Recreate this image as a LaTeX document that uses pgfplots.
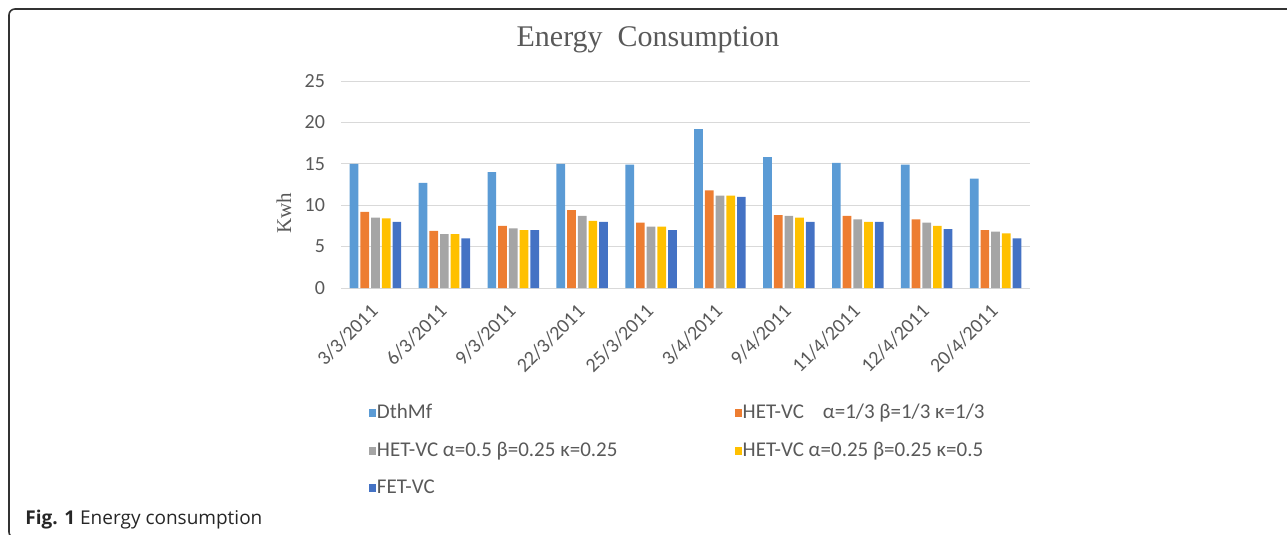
\documentclass[border=0pt]{standalone}
\usepackage{fontspec}
\setmainfont{Carlito}
\newfontfamily\titlefont{Liberation Serif}
\newfontfamily\capfont{Open Sans}
\usepackage{pgfplots}
\pgfplotsset{compat=1.18}
\definecolor{cA}{HTML}{5B9BD5}
\definecolor{cB}{HTML}{ED7D31}
\definecolor{cC}{HTML}{A5A5A5}
\definecolor{cD}{HTML}{FFC000}
\definecolor{cE}{HTML}{4472C4}
\definecolor{txt}{HTML}{595959}
\definecolor{gridc}{HTML}{D9D9D9}
\begin{document}
\begin{tikzpicture}
\begin{scope}[x=0.5pt,y=-0.5pt]
\path[use as bounding box] (0,0) rectangle (1287,535);
\begin{scope}
\clip (0,0) rectangle (1287,535);
\draw[line width=0.8pt, color=black!80, rounded corners=3pt] (1300,9) -- (9,9) -- (9,538) -- (40,538);
\end{scope}
\node[font=\titlefont\fontsize{15}{18}\selectfont, text=txt, anchor=base] at (648,47) {Energy\ \ Consumption};
\node[anchor=base west, font=\capfont\fontsize{9.5}{11}\selectfont, text=black!85, inner sep=0] at (25,524) {\textbf{Fig. 1} Energy consumption};
\end{scope}
\begin{axis}[
  at={(170.5pt,-144pt)}, anchor=south west,
  width=344.5pt, height=103.5pt, scale only axis,
  ybar=1pt, bar width=4.35pt,
  xmin=-0.5, xmax=9.5, ymin=0, ymax=25,
  ytick={0,5,...,25},
  xtick=data,
  xticklabels={3/3/2011,6/3/2011,9/3/2011,22/3/2011,25/3/2011,3/4/2011,9/4/2011,11/4/2011,12/4/2011,20/4/2011},
  /pgf/number format/assume math mode=true,
  ymajorgrids, grid style={color=gridc, line width=0.5pt},
  axis line style={draw=none},
  major tick length=0pt,
  tick style={draw=none},
  yticklabel style={font=\fontsize{10}{12}\selectfont, text=txt, xshift=-4.5pt},
  xticklabel style={font=\fontsize{10}{12}\selectfont, text=txt, rotate=45, anchor=north east, xshift=-4pt, yshift=0.45pt},
  ylabel={Kwh},
  ylabel style={font=\titlefont\fontsize{10.5}{12}\selectfont, text=txt, at={(rel axis cs:-0.083,0.36)}, anchor=center},
  legend style={at={(0.031,-0.53)}, anchor=north west, draw=none, fill=none,
    font=\fontsize{10.5}{12}\selectfont, text=txt,
    /tikz/every even column/.append style={column sep=58pt},
    row sep=8.2pt, nodes={inner xsep=0.5pt, inner ysep=1pt}},
  legend columns=2,
  legend cell align=left,
  legend image code/.code={\fill[#1] (0pt,-1.9pt) rectangle (3.6pt,1.9pt);},
]
\addplot[fill=cA, draw=none] coordinates {(0,15) (1,12.7) (2,14) (3,15) (4,14.9) (5,19.2) (6,15.8) (7,15.1) (8,14.9) (9,13.2)};
\addplot[fill=cB, draw=none] coordinates {(0,9.2) (1,6.9) (2,7.5) (3,9.4) (4,7.9) (5,11.8) (6,8.8) (7,8.7) (8,8.3) (9,7.0)};
\addplot[fill=cC, draw=none] coordinates {(0,8.5) (1,6.5) (2,7.2) (3,8.7) (4,7.4) (5,11.15) (6,8.7) (7,8.3) (8,7.9) (9,6.8)};
\addplot[fill=cD, draw=none] coordinates {(0,8.4) (1,6.5) (2,7.0) (3,8.1) (4,7.4) (5,11.15) (6,8.5) (7,8.0) (8,7.5) (9,6.6)};
\addplot[fill=cE, draw=none] coordinates {(0,8.0) (1,6.0) (2,7.0) (3,8.0) (4,7.0) (5,11.0) (6,8.0) (7,8.0) (8,7.1) (9,6.0)};
\legend{DthMf, HET-VC\hspace{0.9em}α=1/3 β=1/3 κ=1/3, HET-VC α=0.5 β=0.25 κ=0.25, HET-VC α=0.25 β=0.25 κ=0.5, FET-VC}
\end{axis}
\end{tikzpicture}
\end{document}
